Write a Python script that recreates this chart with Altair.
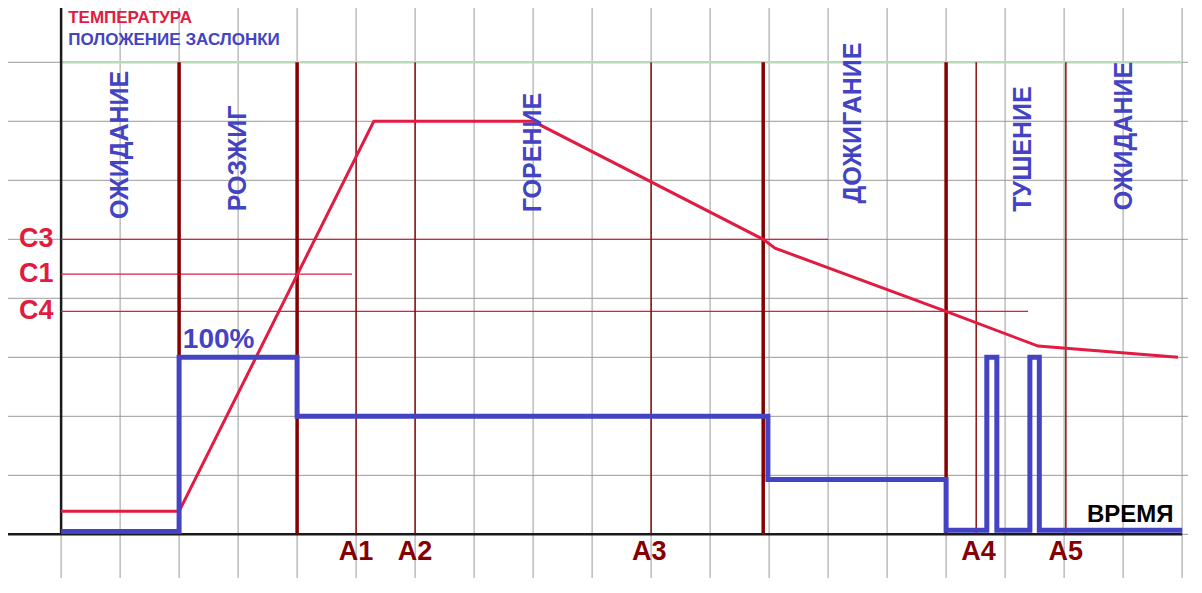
import altair as alt
import pandas as pd

# ---- data (grid units: x = time cells, y = level cells) ----
grid_x = list(range(-1, 20))
grid_y = list(range(-1, 10))

temp_x = [0, 2, 5.3, 8.0, 11.9, 12.1, 15.0, 16.56, 18.93]
temp_y = [0.39, 0.39, 7.0, 7.0, 5.0, 4.85, 3.78, 3.19, 3.0]

damper_x = [0, 2, 2, 4, 4, 11.98, 11.98, 15, 15, 15.69, 15.69, 15.86, 15.86, 16.42, 16.42, 16.58, 16.58, 19]
damper_y = [0.05, 0.05, 3, 3, 2, 2, 0.93, 0.93, 0.07, 0.07, 3, 3, 0.07, 0.07, 3, 3, 0.07, 0.07]

phase_bounds = [2, 4, 11.9, 15]
marker_lines = [5, 6, 10, 15.51, 17.03]

thr_names = ["C3", "C1", "C4"]
thr_levels = [5.0, 4.41, 3.78]
thr_ends = [13.0, 4.93, 16.39]

phase_names = ["ОЖИДАНИЕ", "РОЗЖИГ", "ГОРЕНИЕ", "ДОЖИГАНИЕ", "ТУШЕНИЕ", "ОЖИДАНИЕ"]
phase_pos = [1.0, 3.0, 8.0, 13.42, 16.3, 18.02]
phase_mid = [6.6, 6.37, 6.47, 6.97, 6.53, 6.75]

a_names = ["A1", "A2", "A3", "A4", "A5"]
a_pos = [5.0, 6.0, 9.97, 15.55, 17.03]

legend_names = ["ТЕМПЕРАТУРА", "ПОЛОЖЕНИЕ ЗАСЛОНКИ"]
legend_y = [8.75, 8.38]

# ---- helpers ----
XD = [-0.9, 19.1]
YD = [-0.74, 8.92]
W, H = 1180, 570
FONT = "Liberation Sans"
RED_DARK = "#850000"
CRIMSON = "#E11B42"
BLUE = "#4343C4"


def X(f):
    return alt.X(f, type="quantitative", scale=alt.Scale(domain=XD, nice=False, zero=False), axis=None)


def Y(f):
    return alt.Y(f, type="quantitative", scale=alt.Scale(domain=YD, nice=False, zero=False), axis=None)


gx = pd.DataFrame({"x": grid_x})
gy = pd.DataFrame({"y": grid_y})

vgrid = alt.Chart(gx).mark_rule(color="#9a9a9a", strokeWidth=1).encode(x=X("x"))
hgrid = alt.Chart(gy).mark_rule(color="#9a9a9a", strokeWidth=1).encode(y=Y("y"))

green = alt.Chart(pd.DataFrame({"x": [0], "x2": [19], "y": [8]})).mark_rule(
    color="#b8dbbb", strokeWidth=2.5).encode(x=X("x"), x2="x2", y=Y("y"))

axis_v = alt.Chart(pd.DataFrame({"x": [0], "y": [0], "y2": [9]})).mark_rule(
    color="#1a1a1a", strokeWidth=2.5).encode(x=X("x"), y=Y("y"), y2="y2")
axis_h = alt.Chart(pd.DataFrame({"x": [-1], "x2": [19], "y": [0]})).mark_rule(
    color="#1a1a1a", strokeWidth=2.5).encode(x=X("x"), x2="x2", y=Y("y"))

thr_df = pd.DataFrame({"name": thr_names, "y": thr_levels, "x": [0] * 3, "x2": thr_ends})
thr = alt.Chart(thr_df).mark_rule(color=CRIMSON, strokeWidth=1.3).encode(x=X("x"), x2="x2", y=Y("y"))

pb_df = pd.DataFrame({"x": phase_bounds, "y": [0] * 4, "y2": [8] * 4})
pb = alt.Chart(pb_df).mark_rule(color=RED_DARK, strokeWidth=3.5).encode(x=X("x"), y=Y("y"), y2="y2")

ml_df = pd.DataFrame({"x": marker_lines, "y": [0] * 5, "y2": [8] * 5})
ml = alt.Chart(ml_df).mark_rule(color=RED_DARK, strokeWidth=1.4).encode(x=X("x"), y=Y("y"), y2="y2")

temp_df = pd.DataFrame({"x": temp_x, "y": temp_y, "i": range(len(temp_x))})
temp = alt.Chart(temp_df).mark_line(color=CRIMSON, strokeWidth=3).encode(
    x=X("x"), y=Y("y"), order="i:Q")

damp_df = pd.DataFrame({"x": damper_x, "y": damper_y, "i": range(len(damper_x))})
damp = alt.Chart(damp_df).mark_line(color=BLUE, strokeWidth=5, strokeJoin="miter").encode(
    x=X("x"), y=Y("y"), order="i:Q")

ph_df = pd.DataFrame({"t": phase_names, "x": phase_pos, "y": phase_mid})
ph_txt = alt.Chart(ph_df).mark_text(
    angle=270, align="center", baseline="middle", font=FONT, fontSize=25, fontWeight="bold", color=BLUE
).encode(x=X("x"), y=Y("y"), text="t:N")

c_txt = alt.Chart(thr_df.assign(lx=-0.13)).mark_text(
    align="right", baseline="middle", font=FONT, fontSize=27, fontWeight="bold", color=CRIMSON
).encode(x=X("lx"), y=Y("y"), text="name:N")

a_df = pd.DataFrame({"t": a_names, "x": a_pos, "y": [-0.3] * 5})
a_txt = alt.Chart(a_df).mark_text(
    align="center", baseline="middle", font=FONT, fontSize=27, fontWeight="bold", color=RED_DARK
).encode(x=X("x"), y=Y("y"), text="t:N")

time_txt = alt.Chart(pd.DataFrame({"t": ["ВРЕМЯ"], "x": [18.12], "y": [0.33]})).mark_text(
    align="center", baseline="middle", font=FONT, fontSize=24, fontWeight="bold", color="#000000"
).encode(x=X("x"), y=Y("y"), text="t:N")

pct_txt = alt.Chart(pd.DataFrame({"t": ["100%"], "x": [2.67], "y": [3.29]})).mark_text(
    align="center", baseline="middle", font=FONT, fontSize=28, fontWeight="bold", color=BLUE
).encode(x=X("x"), y=Y("y"), text="t:N")

lg_df = pd.DataFrame({"t": legend_names, "x": [0.12, 0.12], "y": legend_y, "c": ["temp", "damp"]})
lg_txt = alt.Chart(lg_df).mark_text(
    align="left", baseline="middle", font=FONT, fontSize=17, fontWeight="bold"
).encode(x=X("x"), y=Y("y"), text="t:N",
         color=alt.Color("c:N", scale=alt.Scale(domain=["temp", "damp"], range=[CRIMSON, BLUE]), legend=None))

chart = alt.layer(
    vgrid, hgrid, green, axis_v, axis_h, thr, pb, ml, temp, damp,
    ph_txt, c_txt, a_txt, time_txt, pct_txt, lg_txt
).properties(
    width=W, height=H, padding=0, autosize=alt.AutoSizeParams(type="none")
).configure_view(strokeWidth=0)

chart.save("out.html", embed_options={"renderer": "svg", "actions": False})
